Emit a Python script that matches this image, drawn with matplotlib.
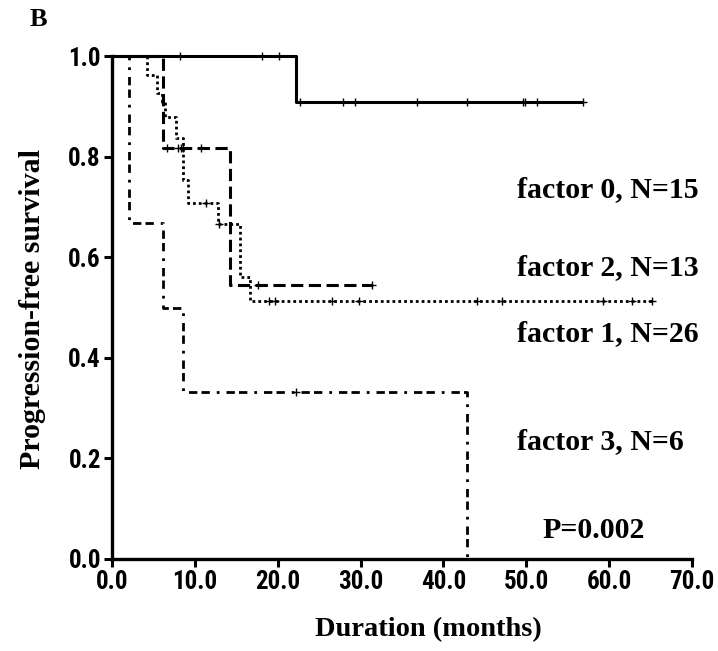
import matplotlib
matplotlib.use("Agg")
import matplotlib.pyplot as plt
from matplotlib import font_manager as fm
import numpy as np

# ---- data ----
f0_t = [0, 22.2, 56.9]
f0_s = [1.0, 0.909, 0.909]
f0_cens = [8.2, 18.1, 20.1, 22.7, 27.9, 29.3, 36.8, 42.8, 49.6, 49.9, 51.3, 56.9]

f1_t = [0, 4.25, 5.4, 6.0, 6.4, 7.7, 8.6, 9.2, 12.8, 15.4, 16.6, 65.2]
f1_s = [1.0, 0.962, 0.926, 0.909, 0.879, 0.836, 0.753, 0.708, 0.666, 0.561, 0.512, 0.512]
f1_cens = [11.3, 12.9, 19.0, 19.7, 26.5, 29.8, 44.0, 47.1, 59.3, 62.8, 65.2]

f2_t = [0, 6.1, 14.2, 31.4]
f2_s = [1.0, 0.818, 0.545, 0.545]
f2_cens = [6.6, 8.0, 8.3, 8.6, 10.8, 17.6, 31.4]

f3_t = [0, 2.1, 6.2, 8.6, 42.8]
f3_s = [1.0, 0.667, 0.5, 0.333, 0.0]
f3_cens = [22.2]

labels = ["factor 0, N=15", "factor 2, N=13", "factor 1, N=26", "factor 3, N=6"]
p_text = "P=0.002"
xticks = [0, 10, 20, 30, 40, 50, 60, 70]
yticks = [0.0, 0.2, 0.4, 0.6, 0.8, 1.0]

# pick a condensed sans for the tick labels if one is installed
ttf = fm.fontManager.ttflist
names = {f.name for f in ttf}
tick_font = None
for cand in ['Liberation Sans Narrow', 'Arial Narrow', 'Roboto Condensed',
             'Open Sans Condensed', 'Noto Sans Condensed', 'DejaVu Sans Condensed']:
    if cand in names:
        tick_font = dict(family=[cand, 'DejaVu Sans'], stretch='normal')
        break
if tick_font is None:
    cond = [f for f in ttf if 'ondensed' in str(f.stretch) or 'Condensed' in f.fname
            or 'Narrow' in f.fname]
    if cond:
        tick_font = dict(family=[cond[0].name, 'DejaVu Sans'], stretch=cond[0].stretch)
    else:
        tick_font = dict(family=['DejaVu Sans'], stretch='normal')
tick_size = 18

serif = ['Liberation Serif', 'DejaVu Serif']

W, H = 718, 651
fig = plt.figure(figsize=(W / 100, H / 100), dpi=100)
L, R, T, B = 112, 692, 56, 559
ax = fig.add_axes([L / W, 1 - B / H, (R - L) / W, (B - T) / H])
ax.set_xlim(0, 70)
ax.set_ylim(0, 1.0)


def surv_at(ts, ss, x):
    idx = np.searchsorted(ts, x, side='right') - 1
    return [ss[i] for i in idx]


def draw(ts, ss, cens, lw, **kw):
    ax.step(ts, ss, where='post', color='black', lw=lw, clip_on=False,
            solid_capstyle='butt', **kw)
    ax.plot(cens, surv_at(ts, ss, cens), linestyle='none', marker='+', ms=6,
            mew=1.0, color='black', clip_on=False)

draw(f3_t, f3_s, f3_cens, 2.0, dashes=(3, 1.5, 3, 2.5, 1, 2.5))
draw(f1_t, f1_s, f1_cens, 2.0, dashes=(1, 1.1))
draw(f2_t, f2_s, f2_cens, 2.2, dashes=(4, 1.8))
draw(f0_t, f0_s, f0_cens, 2.2, linestyle='-')

for s in ['top', 'right']:
    ax.spines[s].set_visible(False)
for s in ['left', 'bottom']:
    ax.spines[s].set_linewidth(2.4)
ax.set_xticks(xticks)
ax.set_xticklabels([f"{v:.1f}" for v in xticks])
ax.set_yticks(yticks)
ax.set_yticklabels([f"{v:.1f}" for v in yticks])
ax.tick_params(axis='both', direction='out', width=2.2, length=6, pad=2)
for lab in ax.get_xticklabels() + ax.get_yticklabels():
    lab.set_family(tick_font['family'])
    lab.set_stretch(tick_font['stretch'])
    lab.set_fontweight('bold')
    lab.set_fontsize(tick_size)


def ftext(x, y, s, **kw):
    fig.text(x / W, 1 - y / H, s, family=serif, fontweight='bold', **kw)

ftext(517, 190, labels[0], fontsize=21.5, va='center', ha='left')
ftext(517, 268, labels[1], fontsize=21.5, va='center', ha='left')
ftext(517, 334, labels[2], fontsize=21.5, va='center', ha='left')
ftext(517, 442, labels[3], fontsize=21.5, va='center', ha='left')
ftext(542, 530, p_text, fontsize=21.5, va='center', ha='left')
ftext(38, 20, "B", fontsize=19, va='center', ha='center')
ftext(428, 630, "Duration (months)", fontsize=20.5, va='center', ha='center')
ftext(33, 309, "Progression-free survival", fontsize=21.5, va='center', ha='center',
      rotation=90)

fig.savefig("out.png", dpi=100)
